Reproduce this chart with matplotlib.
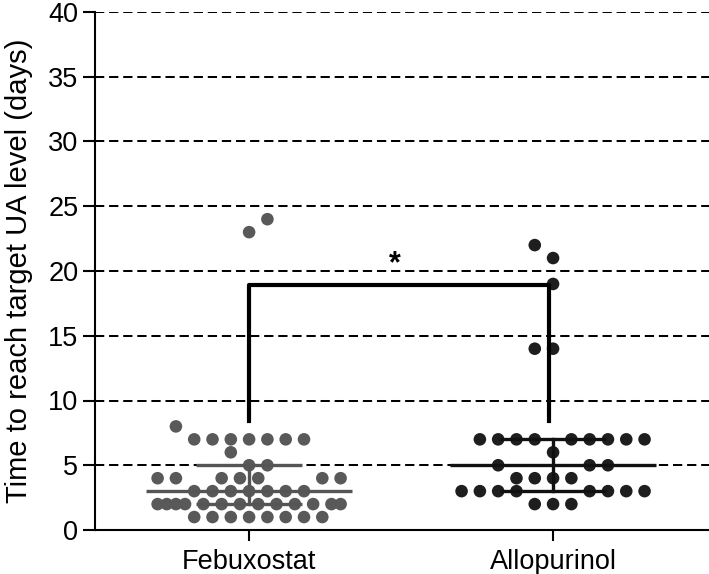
import numpy as np
import matplotlib
matplotlib.use("Agg")
import matplotlib.pyplot as plt

plt.rcParams["font.family"] = ["Liberation Sans", "DejaVu Sans"]

groups = ["Febuxostat", "Allopurinol"]

# days per patient, grouped by row of the dot plot
feb_days = [24, 23, 8] + [7] * 7 + [6] + [5] * 2 + [4] * 7 + [3] * 7 + [2] * 13 + [1] * 8
# horizontal jitter in dot widths
feb_jitter = [1, 0, -4,
              -3, -2, -1, 0, 1, 2, 3,
              -1,
              0, 1,
              -5, -4, -1.5, -0.5, 0.5, 4, 5,
              -3, -2, -1, 0, 1, 2, 3,
              -5, -4.5, -4, -3.5, -2.5, -1.5, -0.5, 0.5, 1.5, 2.5, 3.5, 4.5, 5,
              -3, -2, -1, 0, 1, 2, 3, 4]

allo_days = [22, 21, 19, 14, 14] + [7] * 9 + [6] + [5] * 3 + [4] * 4 + [3] * 8 + [2] * 3
allo_jitter = [-1, 0, 0, -1, 0,
               -4, -3, -2, -1, 1, 2, 3, 4, 5,
               0,
               -3, 2, 3,
               -2, -1, 0, 1,
               -5, -4, -3, -2, 2, 3, 4, 5,
               -1, 0, 1]

colors = ["#595959", "#1e1e1e"]
bar_colors = ["#555555", "#111111"]

fig = plt.figure(figsize=(7.09, 5.74), dpi=100)
ax = fig.add_axes([95 / 709, 44 / 574, 614 / 709, 518 / 574])

step = 0.0602
for i, (days, jit) in enumerate([(feb_days, feb_jitter), (allo_days, allo_jitter)]):
    days = np.array(days, dtype=float)
    x = i + step * np.array(jit)
    ax.scatter(x, days, s=82, color=colors[i], edgecolors="none", zorder=3)
    q1, med, q3 = np.percentile(days, [25, 50, 75])
    ax.plot([i - 0.34, i + 0.34], [med, med], color=bar_colors[i], lw=2.4, zorder=4,
            solid_capstyle="butt")
    for q in (q1, q3):
        ax.plot([i - 0.175, i + 0.175], [q, q], color=bar_colors[i], lw=2.4, zorder=4,
                solid_capstyle="butt")
    ax.plot([i, i], [q1, q3], color=bar_colors[i], lw=2.4, zorder=4)

# significance bracket
ax.plot([0, 0, 0.985, 0.985], [8.4, 18.9, 18.9, 8.4], color="black", lw=3, zorder=5)
ax.text(0.48, 19.4, "*", ha="center", va="bottom", fontsize=22, fontweight="bold")

ax.set_xlim(-0.507, 1.513)
ax.set_ylim(0, 40)
ax.set_yticks(np.arange(0, 41, 5))
for yv in np.arange(5, 41, 5):
    ax.axhline(yv, color="black", lw=1.45, ls=(0, (4.6, 2.4)), zorder=1)
ax.set_xticks([0, 1])
ax.set_xticklabels(groups)
ax.tick_params(axis="both", labelsize=19.5, width=1.5, color="black")
ax.tick_params(axis="y", length=8.5, pad=3.5)
ax.tick_params(axis="x", length=8, pad=6)
ax.set_ylabel("Time to reach target UA level (days)", fontsize=21, labelpad=11)

for side in ["top", "right"]:
    ax.spines[side].set_visible(False)
for side in ["left", "bottom"]:
    ax.spines[side].set_linewidth(1.5)

fig.savefig("out.png", dpi=100)
